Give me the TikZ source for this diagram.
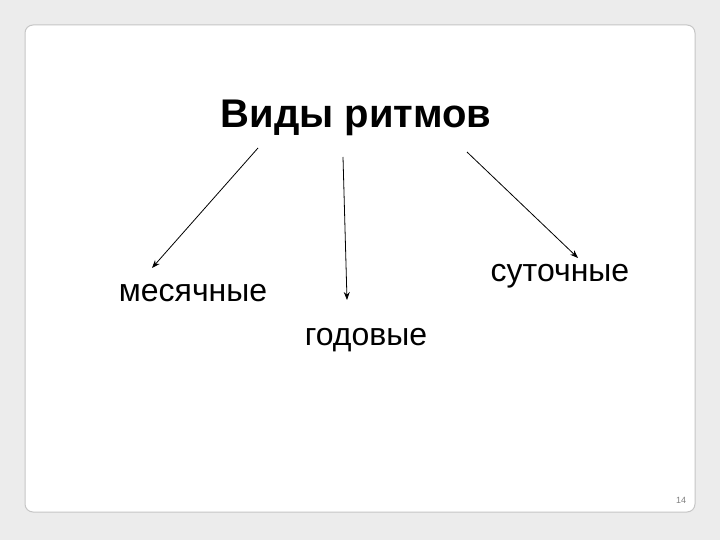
\documentclass[tikz,border=0pt]{standalone}
\usepackage{fontspec}
\setmainfont{Liberation Sans}
\usetikzlibrary{arrows.meta}
\begin{document}
\begin{tikzpicture}[x=1pt,y=-1pt,
  arr/.style={-{Stealth[length=8pt,width=6pt]},line width=0.8pt},
  lbl/.style={font=\fontsize{32}{36}\selectfont}]
\useasboundingbox (0,0) rectangle (720,540);
\fill[gray!15] (0,0) rectangle (720,540);
\draw[gray!45,fill=white,rounded corners=8pt,line width=1pt] (25,25) rectangle (695,512);
\node[font=\bfseries\fontsize{40}{44}\selectfont] (t) at (356,118) {Виды ритмов};
\node[lbl] (m) at (193,293) {месячные};
\node[lbl] (s) at (560,276) {суточные};
\node[lbl] (g) at (366,340) {годовые};
\node[font=\fontsize{9}{10}\selectfont,text=gray] (p) at (681,500) {14};
\coordinate (a1) at (258,148); \coordinate (b1) at (152,268);
\coordinate (a2) at (343,157); \coordinate (b2) at (347,300);
\coordinate (a3) at (467,152); \coordinate (b3) at (578,258);
\draw[arr] (a1) -- (b1);
\draw[arr] (a2) -- (b2);
\draw[arr] (a3) -- (b3);
\end{tikzpicture}
\end{document}
